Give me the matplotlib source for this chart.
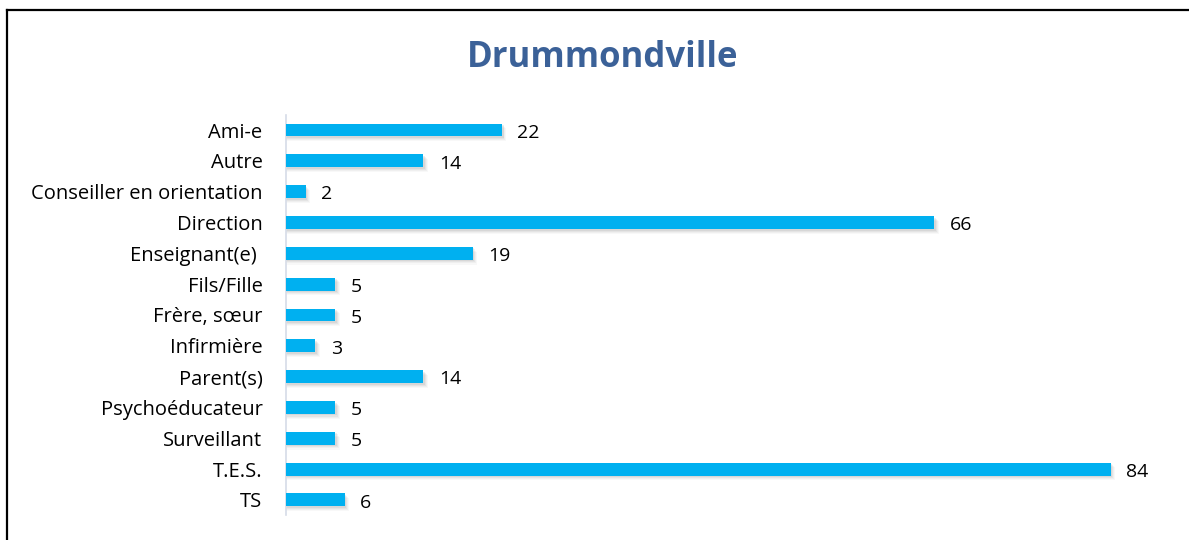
import matplotlib.pyplot as plt
from matplotlib.lines import Line2D

categories = ["Ami-e", "Autre", "Conseiller en orientation", "Direction",
              "Enseignant(e) ", "Fils/Fille", "Frère, sœur", "Infirmière",
              "Parent(s)", "Psychoéducateur", "Surveillant", "T.E.S.", "TS"]
values = [22, 14, 2, 66, 19, 5, 5, 3, 14, 5, 5, 84, 6]
title = "Drummondville"

plt.rcParams['font.family'] = ['Open Sans', 'DejaVu Sans']

fig = plt.figure(figsize=(11.89, 5.4), dpi=100)
ax = fig.add_axes([286 / 1189, 0.0456, (1180 - 286) / 1189, 0.7878 - 0.0456])

pos = list(range(len(categories)))

# soft shadow under the bars
for k, a in enumerate([0.12, 0.09, 0.07, 0.05]):
    off = 0.05 + 0.035 * k
    ax.barh([p + off for p in pos], [v + 0.15 + 0.1 * k for v in values],
            height=0.42, color='#808080', alpha=a, linewidth=0, zorder=1)

bars = ax.barh(pos, values, height=0.42, color='#00B0F0', linewidth=0, zorder=3)

for b, v in zip(bars, values):
    ax.annotate(str(v), (b.get_width(), b.get_y() + b.get_height() / 2),
                xytext=(11, -2), textcoords='offset points',
                va='center', ha='left', fontsize=14, color='#000000')

ax.set_xlim(0, (1180 - 286) / 9.82)
ax.set_ylim(len(categories) - 0.5, -0.5)
ax.set_yticks(pos)
ax.set_yticklabels(categories, fontsize=14.5)
ax.tick_params(axis='y', length=0, pad=17)
ax.set_xticks([])
for s in ['top', 'right', 'bottom']:
    ax.spines[s].set_visible(False)
ax.spines['left'].set_color('#D6DCE8')
ax.spines['left'].set_linewidth(1.2)

fig.text(603 / 1189, 1 - 58 / 540, title, ha='center', va='center',
         fontsize=25, fontweight='bold', color='#3B6198')

# outer frame (top and left edges visible)
fig.add_artist(Line2D([6.5 / 1189, 6.5 / 1189], [0, 1 - 9.5 / 540],
                      transform=fig.transFigure, color='black', linewidth=1.6))
fig.add_artist(Line2D([6.5 / 1189, 1], [1 - 9.5 / 540, 1 - 9.5 / 540],
                      transform=fig.transFigure, color='black', linewidth=1.6))

fig.savefig('out.png', dpi=100)
